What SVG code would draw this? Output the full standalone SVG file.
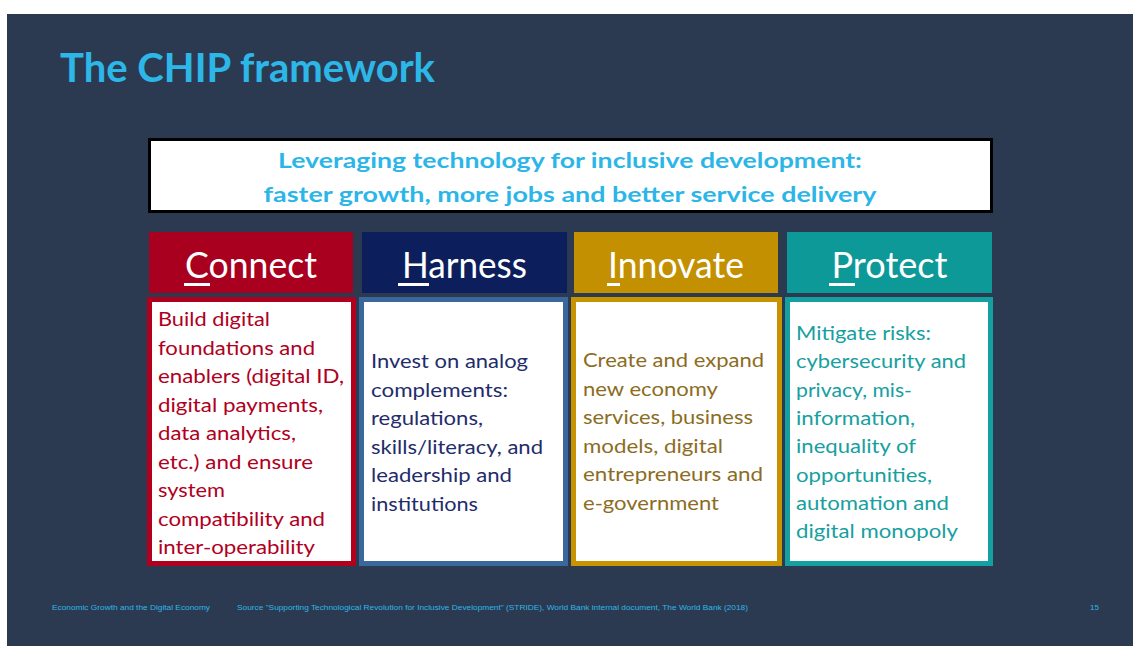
<svg xmlns="http://www.w3.org/2000/svg" width="1133" height="648" viewBox="0 0 1133 648">
<style>
.hd{font-family:Lato,"Open Sans",sans-serif;font-size:37px;fill:#fff;text-anchor:middle}
.bd{font-family:Lato,"Open Sans",sans-serif;font-size:18.5px}
.ft{font-family:"Liberation Sans",Arial,sans-serif;font-size:8px;fill:#2fb6e6}
.ul{fill:#fff}
</style>
<rect x="0" y="0" width="1133" height="648" fill="#fff"/>
<rect x="7" y="14" width="1126" height="632" fill="#2c3a51"/>
<text x="60" y="82" font-family="Lato,'Open Sans',sans-serif" font-weight="bold" font-size="40" fill="#2cb7e8" textLength="375" lengthAdjust="spacingAndGlyphs">The CHIP framework</text>

<g id="goal">
<rect x="149.5" y="139.5" width="842" height="72" fill="#fff" stroke="#000" stroke-width="3"/>
<text x="570" y="168" text-anchor="middle" font-family="Lato,'Open Sans',sans-serif" font-weight="bold" font-size="21" fill="#2cb6e8" textLength="584" lengthAdjust="spacingAndGlyphs">Leveraging technology for inclusive development:</text>
<text x="570" y="202" text-anchor="middle" font-family="Lato,'Open Sans',sans-serif" font-weight="bold" font-size="21" fill="#2cb6e8" textLength="613" lengthAdjust="spacingAndGlyphs">faster growth, more jobs and better service delivery</text>
</g>

<g id="connect">
<rect x="149" y="232" width="204" height="61" fill="#a8001e"/>
<text class="hd" x="251" y="278" textLength="132" lengthAdjust="spacingAndGlyphs">Connect</text>
<rect class="ul" x="184" y="283" width="26" height="3"/>
<rect x="149.5" y="299.5" width="204" height="264" fill="#fff" stroke="#b0001e" stroke-width="5"/>
<g class="bd" fill="#b0001e">
<text x="158" y="326" textLength="112" lengthAdjust="spacingAndGlyphs">Build digital</text>
<text x="158" y="354.5" textLength="157" lengthAdjust="spacingAndGlyphs">foundations and</text>
<text x="158" y="383" textLength="186" lengthAdjust="spacingAndGlyphs">enablers (digital ID,</text>
<text x="158" y="411.5" textLength="165" lengthAdjust="spacingAndGlyphs">digital payments,</text>
<text x="158" y="440" textLength="138" lengthAdjust="spacingAndGlyphs">data analytics,</text>
<text x="158" y="468.5" textLength="155" lengthAdjust="spacingAndGlyphs">etc.) and ensure</text>
<text x="158" y="497" textLength="67" lengthAdjust="spacingAndGlyphs">system</text>
<text x="158" y="525.5" textLength="167" lengthAdjust="spacingAndGlyphs">compatibility and</text>
<text x="158" y="554" textLength="157" lengthAdjust="spacingAndGlyphs">inter-operability</text>
</g>
</g>

<g id="harness">
<rect x="362" y="232" width="205" height="61" fill="#0c1f5c"/>
<text class="hd" x="464.5" y="278" textLength="125" lengthAdjust="spacingAndGlyphs">Harness</text>
<rect class="ul" x="398" y="283" width="31" height="3"/>
<rect x="361.5" y="299.5" width="204" height="264" fill="#fff" stroke="#3a679c" stroke-width="5"/>
<g class="bd" fill="#1f2d6b">
<text x="371" y="368" textLength="157" lengthAdjust="spacingAndGlyphs">Invest on analog</text>
<text x="371" y="396.5" textLength="137" lengthAdjust="spacingAndGlyphs">complements:</text>
<text x="371" y="425" textLength="112" lengthAdjust="spacingAndGlyphs">regulations,</text>
<text x="371" y="453.5" textLength="172" lengthAdjust="spacingAndGlyphs">skills/literacy, and</text>
<text x="371" y="482" textLength="141" lengthAdjust="spacingAndGlyphs">leadership and</text>
<text x="371" y="510.5" textLength="107" lengthAdjust="spacingAndGlyphs">institutions</text>
</g>
</g>

<g id="innovate">
<rect x="574" y="232" width="204" height="61" fill="#c29000"/>
<text class="hd" x="676" y="278" textLength="136" lengthAdjust="spacingAndGlyphs">Innovate</text>
<rect class="ul" x="607" y="283" width="13" height="3"/>
<rect x="573.5" y="299.5" width="206" height="264" fill="#fff" stroke="#c79300" stroke-width="5"/>
<g class="bd" fill="#8c6d1f">
<text x="583" y="367" textLength="181" lengthAdjust="spacingAndGlyphs">Create and expand</text>
<text x="583" y="395.5" textLength="135" lengthAdjust="spacingAndGlyphs">new economy</text>
<text x="583" y="424" textLength="170" lengthAdjust="spacingAndGlyphs">services, business</text>
<text x="583" y="452.5" textLength="140" lengthAdjust="spacingAndGlyphs">models, digital</text>
<text x="583" y="481" textLength="180" lengthAdjust="spacingAndGlyphs">entrepreneurs and</text>
<text x="583" y="509.5" textLength="136" lengthAdjust="spacingAndGlyphs">e-government</text>
</g>
</g>

<g id="protect">
<rect x="787" y="232" width="205" height="61" fill="#0e9999"/>
<text class="hd" x="889.5" y="278" textLength="116" lengthAdjust="spacingAndGlyphs">Protect</text>
<rect class="ul" x="829" y="283" width="26" height="3"/>
<rect x="787.5" y="299.5" width="203" height="264" fill="#fff" stroke="#14a0a0" stroke-width="5"/>
<g class="bd" fill="#17a0a0">
<text x="796" y="340" textLength="135" lengthAdjust="spacingAndGlyphs">Mitigate risks:</text>
<text x="796" y="368.3" textLength="170" lengthAdjust="spacingAndGlyphs">cybersecurity and</text>
<text x="796" y="396.6" textLength="116" lengthAdjust="spacingAndGlyphs">privacy, mis-</text>
<text x="796" y="424.9" textLength="119" lengthAdjust="spacingAndGlyphs">information,</text>
<text x="796" y="453.2" textLength="120" lengthAdjust="spacingAndGlyphs">inequality of</text>
<text x="796" y="481.5" textLength="136" lengthAdjust="spacingAndGlyphs">opportunities,</text>
<text x="796" y="509.8" textLength="153" lengthAdjust="spacingAndGlyphs">automation and</text>
<text x="796" y="538" textLength="162" lengthAdjust="spacingAndGlyphs">digital monopoly</text>
</g>
</g>

<g id="connectors"></g>

<g id="footer">
<text class="ft" x="52" y="610" textLength="158" lengthAdjust="spacingAndGlyphs">Economic Growth and the Digital Economy</text>
<text class="ft" x="237" y="610" textLength="511" lengthAdjust="spacingAndGlyphs">Source "Supporting Technological Revolution for Inclusive Development" (STRIDE), World Bank internal document, The World Bank (2018)</text>
<text class="ft" x="1090" y="610">15</text>
</g>
</svg>
